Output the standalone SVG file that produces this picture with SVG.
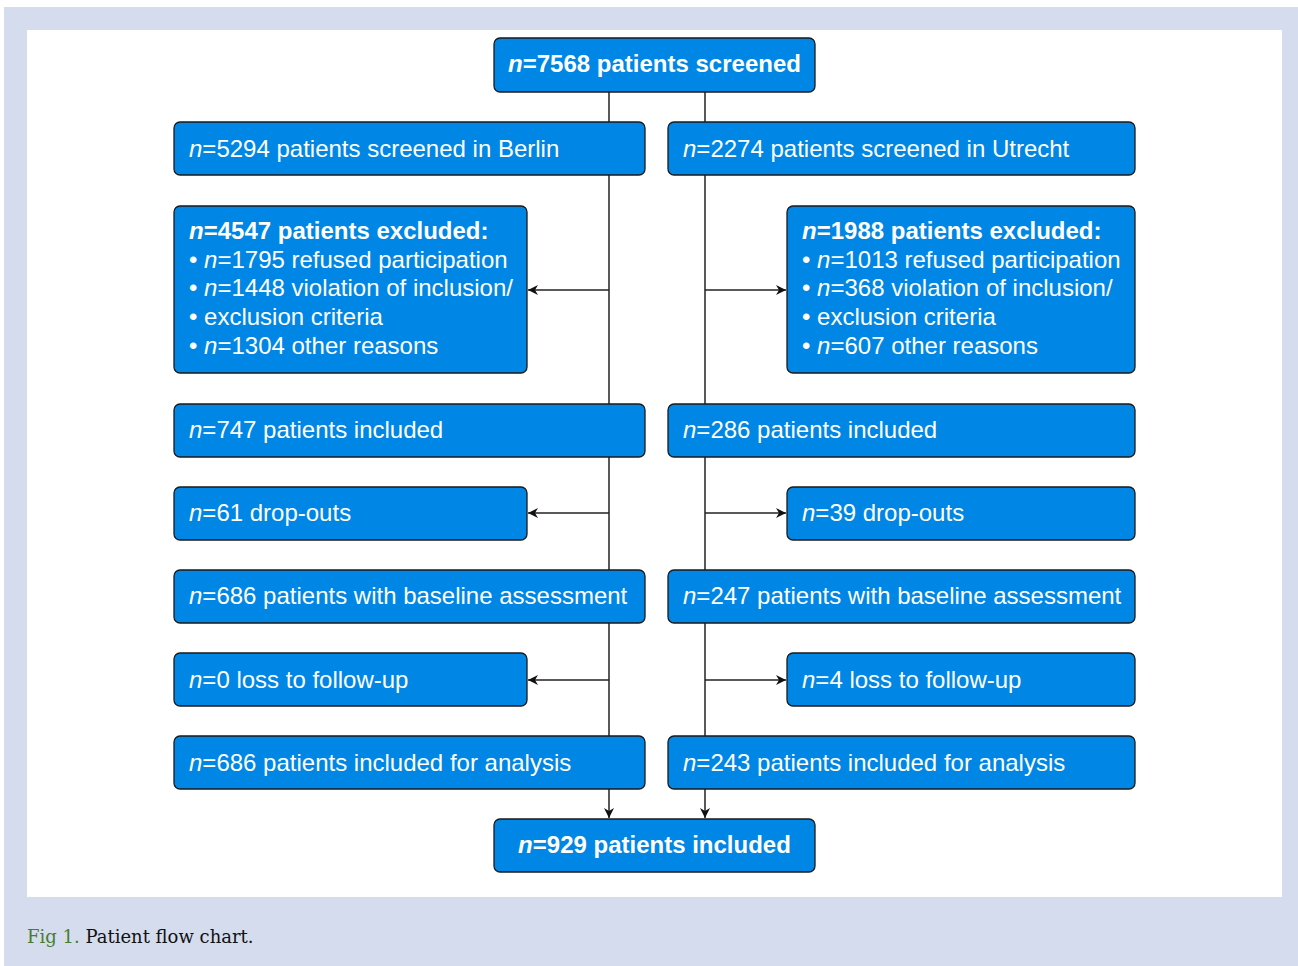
<svg xmlns="http://www.w3.org/2000/svg" width="1298" height="966" viewBox="0 0 1298 966">
<style>
.bx{fill:#0086e5;stroke:#1a1a1a;stroke-width:1.3}
.t{font-family:"Liberation Sans",Arial,sans-serif;font-size:24px;fill:#fff}
.b{font-weight:bold}
.c{text-anchor:middle}
.ln{stroke:#222;stroke-width:1.5;fill:none}
</style>
<defs>
<marker id="ah" viewBox="0 0 10 10" refX="10" refY="5" markerWidth="10" markerHeight="10" markerUnits="userSpaceOnUse" orient="auto">
<path d="M0,0 L10,5 L0,10 L3,5 Z" fill="#111"/>
</marker>
</defs>
<rect x="4" y="7" width="1294" height="959" fill="#d4dcee"/>
<rect x="27" y="30" width="1255" height="867" fill="#fff"/>
<g id="connectors">
<line class="ln" x1="609" y1="92" x2="609" y2="818" marker-end="url(#ah)"/>
<line class="ln" x1="705" y1="92" x2="705" y2="818" marker-end="url(#ah)"/>
<line class="ln" x1="609" y1="290" x2="528" y2="290" marker-end="url(#ah)"/>
<line class="ln" x1="705" y1="290" x2="786" y2="290" marker-end="url(#ah)"/>
<line class="ln" x1="609" y1="513" x2="528" y2="513" marker-end="url(#ah)"/>
<line class="ln" x1="705" y1="513" x2="786" y2="513" marker-end="url(#ah)"/>
<line class="ln" x1="609" y1="680" x2="528" y2="680" marker-end="url(#ah)"/>
<line class="ln" x1="705" y1="680" x2="786" y2="680" marker-end="url(#ah)"/>
</g>
<g id="n-screened"><rect class="bx" x="494" y="38" width="321" height="54" rx="6"/>
<text class="t b c" x="654.5" y="72"><tspan font-style="italic">n</tspan>=7568 patients screened</text></g>
<g id="n-berlin"><rect class="bx" x="174" y="122" width="471" height="53" rx="6"/>
<text class="t" x="189" y="157"><tspan font-style="italic">n</tspan>=5294 patients screened in Berlin</text></g>
<g id="n-utrecht"><rect class="bx" x="668" y="122" width="467" height="53" rx="6"/>
<text class="t" x="683" y="157"><tspan font-style="italic">n</tspan>=2274 patients screened in Utrecht</text></g>
<g id="n-excl-left"><rect class="bx" x="174" y="206" width="353" height="167" rx="6"/>
<text class="t" x="189" y="239"><tspan class="b"><tspan font-style="italic">n</tspan>=4547 patients excluded:</tspan>
<tspan x="189" dy="28.7">• <tspan font-style="italic">n</tspan>=1795 refused participation</tspan>
<tspan x="189" dy="28.7">• <tspan font-style="italic">n</tspan>=1448 violation of inclusion/</tspan>
<tspan x="189" dy="28.7">• exclusion criteria</tspan>
<tspan x="189" dy="28.7">• <tspan font-style="italic">n</tspan>=1304 other reasons</tspan></text></g>
<g id="n-excl-right"><rect class="bx" x="787" y="206" width="348" height="167" rx="6"/>
<text class="t" x="802" y="239"><tspan class="b"><tspan font-style="italic">n</tspan>=1988 patients excluded:</tspan>
<tspan x="802" dy="28.7">• <tspan font-style="italic">n</tspan>=1013 refused participation</tspan>
<tspan x="802" dy="28.7">• <tspan font-style="italic">n</tspan>=368 violation of inclusion/</tspan>
<tspan x="802" dy="28.7">• exclusion criteria</tspan>
<tspan x="802" dy="28.7">• <tspan font-style="italic">n</tspan>=607 other reasons</tspan></text></g>
<g id="n-incl-left"><rect class="bx" x="174" y="404" width="471" height="53" rx="6"/>
<text class="t" x="189" y="438"><tspan font-style="italic">n</tspan>=747 patients included</text></g>
<g id="n-incl-right"><rect class="bx" x="668" y="404" width="467" height="53" rx="6"/>
<text class="t" x="683" y="438"><tspan font-style="italic">n</tspan>=286 patients included</text></g>
<g id="n-drop-left"><rect class="bx" x="174" y="487" width="353" height="53" rx="6"/>
<text class="t" x="189" y="521"><tspan font-style="italic">n</tspan>=61 drop-outs</text></g>
<g id="n-drop-right"><rect class="bx" x="787" y="487" width="348" height="53" rx="6"/>
<text class="t" x="802" y="521"><tspan font-style="italic">n</tspan>=39 drop-outs</text></g>
<g id="n-base-left"><rect class="bx" x="174" y="570" width="471" height="53" rx="6"/>
<text class="t" x="189" y="604"><tspan font-style="italic">n</tspan>=686 patients with baseline assessment</text></g>
<g id="n-base-right"><rect class="bx" x="668" y="570" width="467" height="53" rx="6"/>
<text class="t" x="683" y="604"><tspan font-style="italic">n</tspan>=247 patients with baseline assessment</text></g>
<g id="n-loss-left"><rect class="bx" x="174" y="653" width="353" height="53" rx="6"/>
<text class="t" x="189" y="688"><tspan font-style="italic">n</tspan>=0 loss to follow-up</text></g>
<g id="n-loss-right"><rect class="bx" x="787" y="653" width="348" height="53" rx="6"/>
<text class="t" x="802" y="688"><tspan font-style="italic">n</tspan>=4 loss to follow-up</text></g>
<g id="n-anal-left"><rect class="bx" x="174" y="736" width="471" height="53" rx="6"/>
<text class="t" x="189" y="771"><tspan font-style="italic">n</tspan>=686 patients included for analysis</text></g>
<g id="n-anal-right"><rect class="bx" x="668" y="736" width="467" height="53" rx="6"/>
<text class="t" x="683" y="771"><tspan font-style="italic">n</tspan>=243 patients included for analysis</text></g>
<g id="n-total"><rect class="bx" x="494" y="819" width="321" height="53" rx="6"/>
<text class="t b c" x="654.5" y="853"><tspan font-style="italic">n</tspan>=929 patients included</text></g>
<text x="27" y="943" font-family="'DejaVu Serif','Liberation Serif',serif" font-size="18" fill="#111"><tspan fill="#4a7c2e">Fig 1.</tspan> Patient flow chart.</text>
</svg>
